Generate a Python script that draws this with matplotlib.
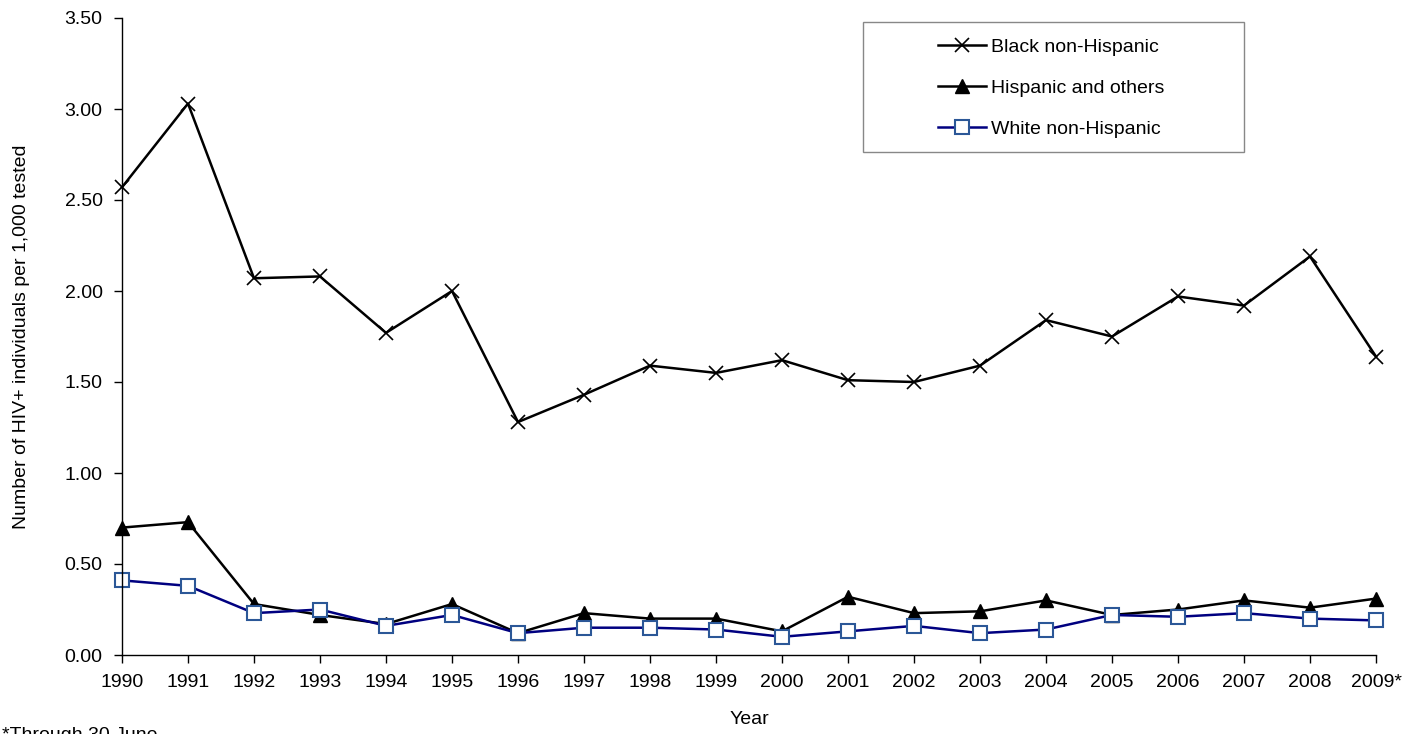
import matplotlib
matplotlib.use("Agg")
import matplotlib.pyplot as plt
from matplotlib.patches import Rectangle

plt.rcParams['font.family'] = ['Liberation Sans', 'DejaVu Sans']

years = ['1990', '1991', '1992', '1993', '1994', '1995', '1996', '1997', '1998', '1999',
         '2000', '2001', '2002', '2003', '2004', '2005', '2006', '2007', '2008', '2009*']

black = [2.57, 3.03, 2.07, 2.08, 1.77, 2.00, 1.28, 1.43, 1.59, 1.55,
         1.62, 1.51, 1.50, 1.59, 1.84, 1.75, 1.97, 1.92, 2.19, 1.64]
hispanic = [0.70, 0.73, 0.28, 0.22, 0.17, 0.28, 0.12, 0.23, 0.20, 0.20,
            0.13, 0.32, 0.23, 0.24, 0.30, 0.22, 0.25, 0.30, 0.26, 0.31]
white = [0.41, 0.38, 0.23, 0.25, 0.16, 0.22, 0.12, 0.15, 0.15, 0.14,
         0.10, 0.13, 0.16, 0.12, 0.14, 0.22, 0.21, 0.23, 0.20, 0.19]

yticks = [0.0, 0.5, 1.0, 1.5, 2.0, 2.5, 3.0, 3.5]

W, H = 1411, 734
fig = plt.figure(figsize=(W / 100, H / 100), dpi=100)
ax = fig.add_axes([122 / W, (H - 655) / H, (1376 - 122) / W, (655 - 18) / H])

x = list(range(len(years)))
ax.plot(x, black, color='black', lw=1.8, marker='x', ms=10, mew=1.2,
        label='Black non-Hispanic')
ax.plot(x, hispanic, color='black', lw=1.8, marker='^', ms=10,
        label='Hispanic and others')
ax.plot(x, white, color='#000080', lw=1.8, marker='s', ms=10, mfc='white',
        mec='#2B5797', mew=1.5, label='White non-Hispanic')

ax.set_xlim(0, len(years) - 1)
ax.set_ylim(0, 3.5)
ax.set_xticks(x)
ax.set_xticklabels(years)
ax.set_yticks(yticks)
ax.set_yticklabels([f'{v:.2f}' for v in yticks])
ax.tick_params(labelsize=14, length=6, width=1, direction='out', pad=8)
for s in ['top', 'right']:
    ax.spines[s].set_visible(False)
for s in ['left', 'bottom']:
    ax.spines[s].set_linewidth(1)
for line in ax.lines:
    line.set_clip_on(False)

ax.set_xlabel('Year', fontsize=14, labelpad=14)
ax.set_ylabel('Number of HIV+ individuals per 1,000 tested', fontsize=14, labelpad=25)

# legend frame drawn separately so the entries can sit in the middle of a wide box
fig.patches.append(Rectangle((863 / W, 1 - 152 / H), (1244 - 863) / W, 130 / H,
                             transform=fig.transFigure, facecolor='white',
                             edgecolor='#888888', lw=1, zorder=5))
leg = fig.legend(*ax.get_legend_handles_labels(), loc='upper left',
                 bbox_to_anchor=(938 / W, 1 - 38 / H), fontsize=14, frameon=False,
                 handlelength=2.45, labelspacing=1.2, borderpad=0,
                 handletextpad=0.3, borderaxespad=0)
leg.set_zorder(6)

fig.text(2 / W, 1 - 727 / H, '*Through 30 June', fontsize=14, va='top', ha='left')

fig.savefig('out.png', dpi=100)
